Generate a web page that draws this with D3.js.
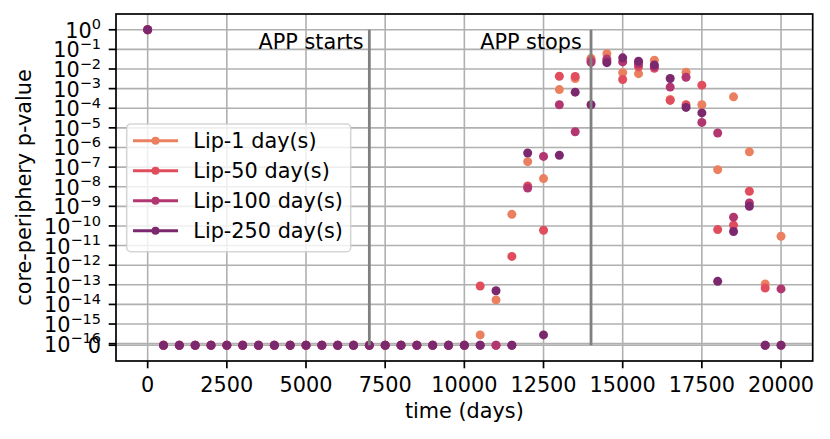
<!DOCTYPE html>
<html>
<head>
<meta charset="utf-8">
<script src="https://cdn.jsdelivr.net/npm/d3@7"></script>
<style>
  body { margin: 0; background: #fff; }
  text { font-family: "DejaVu Sans", sans-serif; fill: #000; }
</style>
</head>
<body>
<svg id="chart" width="830" height="439"></svg>
<script>
// time points (days)
const days = [0, 500, 1000, 1500, 2000, 2500, 3000, 3500, 4000, 4500, 5000,
  5500, 6000, 6500, 7000, 7500, 8000, 8500, 9000, 9500, 10000,
  10500, 11000, 11500, 12000, 12500, 13000, 13500, 14000, 14500, 15000,
  15500, 16000, 16500, 17000, 17500, 18000, 18500, 19000, 19500, 20000];

// core-periphery p-values per lipschitz window (0 = exactly zero)
const lip1 = [1, 0, 0, 0, 0, 0, 0, 0, 0, 0, 0, 0, 0, 0, 0, 0, 0, 0, 0, 0, 0,
  2.8e-16, 1.7e-14, 3.9e-10, 1.9e-7, 2.6e-8, 8.9e-4, 3.3e-3, 3.5e-2, 6.0e-2, 6.5e-3,
  5.8e-3, 2.8e-2, 2.8e-4, 6.9e-3, 1.5e-4, 7.4e-8, 3.8e-4, 6.0e-7, 1.1e-13, 3.0e-11];
const lip50 = [1, 0, 0, 0, 0, 0, 0, 0, 0, 0, 0, 0, 0, 0, 0, 0, 0, 0, 0, 0, 0,
  8.7e-14, 0, 2.8e-12, 1.1e-8, 6.0e-11, 4.3e-3, 4.2e-3, 2.8e-2, 2.6e-2, 2.9e-3,
  1.3e-2, 1.1e-2, 2.5e-4, 1.5e-4, 1.5e-3, 6.5e-11, 1.1e-10, 5.9e-9, 6.9e-14, 0];
const lip100 = [1, 0, 0, 0, 0, 0, 0, 0, 0, 0, 0, 0, 0, 0, 0, 0, 0, 0, 0, 0, 0,
  0, 0, 0, 8.5e-9, 3.5e-7, 1.5e-4, 6.3e-6, 2.2e-2, 3.2e-2, 2.3e-2,
  1.8e-2, 1.3e-2, 1.2e-3, 3.8e-3, 1.9e-5, 5.5e-6, 2.8e-10, 1.5e-9, 0, 6.2e-14];
const lip250 = [1, 0, 0, 0, 0, 0, 0, 0, 0, 0, 0, 0, 0, 0, 0, 0, 0, 0, 0, 0, 0,
  0, 5.0e-14, 0, 5.2e-7, 2.8e-16, 4.0e-7, 6.6e-4, 1.5e-4, 2.1e-2, 3.7e-2,
  2.5e-2, 1.6e-2, 3.3e-3, 1.1e-4, 5.8e-5, 1.5e-13, 5.2e-11, 1.0e-9, 0, 0];

const seriesNames = ['Lip-1 day(s)', 'Lip-50 day(s)', 'Lip-100 day(s)', 'Lip-250 day(s)'];
const seriesValues = [lip1, lip50, lip100, lip250];
const seriesColors = ['#eb8060', '#e04e5e', '#b23670', '#7b286e'];

const xTicks = [0, 2500, 5000, 7500, 10000, 12500, 15000, 17500, 20000];
const yTickExps = [0, -1, -2, -3, -4, -5, -6, -7, -8, -9, -10, -11, -12, -13, -14, -15, -16];

const events = [
  { day: 7000, label: 'APP starts', labelDay: 3500 },
  { day: 14000, label: 'APP stops', labelDay: 10500 }
];

const svg = d3.select('#chart');
const margin = { left: 116, top: 14 };
const width = 696.7;
const height = 347;
const fontSize = 20.8;

const g = svg.append('g').attr('transform', `translate(${margin.left},${margin.top})`);

// Scales
const x = d3.scaleLinear().domain([-1000, 21000]).range([0, width]);
// zero is drawn just below 1e-16, like a symlog axis
const zeroExp = -16.08;
const span = 0 - zeroExp;
const y = d3.scaleLog()
  .domain([10 ** (zeroExp - 0.05 * span), 10 ** (0.05 * span)])
  .range([height, 0]);
const yv = (v) => (v === 0 ? y(10 ** zeroExp) : y(v));

// Grid
const grid = g.append('g').attr('stroke', '#b0b0b0').attr('stroke-width', 1.6);
xTicks.forEach((t) => {
  grid.append('line').attr('x1', x(t)).attr('x2', x(t)).attr('y1', 0).attr('y2', height);
});
yTickExps.forEach((e) => {
  grid.append('line').attr('x1', 0).attr('x2', width).attr('y1', y(10 ** e)).attr('y2', y(10 ** e));
});
grid.append('line').attr('x1', 0).attr('x2', width).attr('y1', yv(0)).attr('y2', yv(0));

// Points
seriesValues.forEach((vals, i) => {
  g.append('g')
    .selectAll('circle')
    .data(vals.map((v, j) => ({ day: days[j], v })))
    .enter()
    .append('circle')
    .attr('cx', (d) => x(d.day))
    .attr('cy', (d) => yv(d.v))
    .attr('r', 4.5)
    .attr('fill', seriesColors[i]);
});

// Event lines and labels
events.forEach((ev) => {
  g.append('line')
    .attr('x1', x(ev.day)).attr('x2', x(ev.day))
    .attr('y1', y(1)).attr('y2', yv(0))
    .attr('stroke', '#808080')
    .attr('stroke-width', 2.8);
  g.append('text')
    .attr('x', x(ev.labelDay))
    .attr('y', y(0.1))
    .attr('font-size', fontSize)
    .text(ev.label);
});

// Legend
const legend = g.append('g').attr('transform', 'translate(10.7,110)');
legend.append('rect')
  .attr('width', 224).attr('height', 127.7)
  .attr('rx', 4).attr('ry', 4)
  .attr('fill', 'white').attr('fill-opacity', 0.8)
  .attr('stroke', '#cccccc').attr('stroke-opacity', 0.8).attr('stroke-width', 1.6);
seriesNames.forEach((name, i) => {
  const row = legend.append('g').attr('transform', `translate(0,${16.7 + i * 30})`);
  row.append('line')
    .attr('x1', 6.3).attr('x2', 51.3)
    .attr('stroke', seriesColors[i]).attr('stroke-width', 3);
  row.append('circle').attr('cx', 28.8).attr('r', 4).attr('fill', seriesColors[i]);
  row.append('text')
    .attr('x', 66.6).attr('y', 7.5)
    .attr('font-size', fontSize)
    .text(name);
});

// Spines
g.append('rect')
  .attr('width', width).attr('height', height)
  .attr('fill', 'none').attr('stroke', '#000').attr('stroke-width', 1.7);

// X ticks
const xAxis = g.append('g').attr('transform', `translate(0,${height})`);
xTicks.forEach((t) => {
  xAxis.append('line').attr('x1', x(t)).attr('x2', x(t)).attr('y1', 0).attr('y2', 7.3)
    .attr('stroke', '#000').attr('stroke-width', 1.7);
  xAxis.append('text')
    .attr('x', x(t)).attr('y', 30.7)
    .attr('text-anchor', 'middle')
    .attr('font-size', fontSize)
    .text(t);
});

// Y ticks
const yAxis = g.append('g');
yTickExps.forEach((e) => {
  const ty = y(10 ** e);
  yAxis.append('line').attr('x1', -7.3).attr('x2', 0).attr('y1', ty).attr('y2', ty)
    .attr('stroke', '#000').attr('stroke-width', 1.7);
  const label = yAxis.append('text')
    .attr('x', -15).attr('y', ty + 8)
    .attr('text-anchor', 'end')
    .attr('font-size', fontSize);
  label.append('tspan').text('10');
  label.append('tspan')
    .attr('dy', -8.3)
    .attr('font-size', 14.5)
    .text(e === 0 ? '0' : '\u2212' + Math.abs(e));
});
yAxis.append('line').attr('x1', -7.3).attr('x2', 0).attr('y1', yv(0)).attr('y2', yv(0))
  .attr('stroke', '#000').attr('stroke-width', 1.7);
yAxis.append('text')
  .attr('x', -15).attr('y', yv(0) + 7.7)
  .attr('text-anchor', 'end')
  .attr('font-size', fontSize)
  .text('0');

// Axis labels
g.append('text')
  .attr('x', width / 2).attr('y', height + 57.3)
  .attr('text-anchor', 'middle')
  .attr('font-size', fontSize)
  .text('time (days)');
g.append('text')
  .attr('transform', `translate(${31 - margin.left},${height / 2}) rotate(-90)`)
  .attr('text-anchor', 'middle')
  .attr('font-size', fontSize)
  .text('core-periphery p-value');
</script>
</body>
</html>
